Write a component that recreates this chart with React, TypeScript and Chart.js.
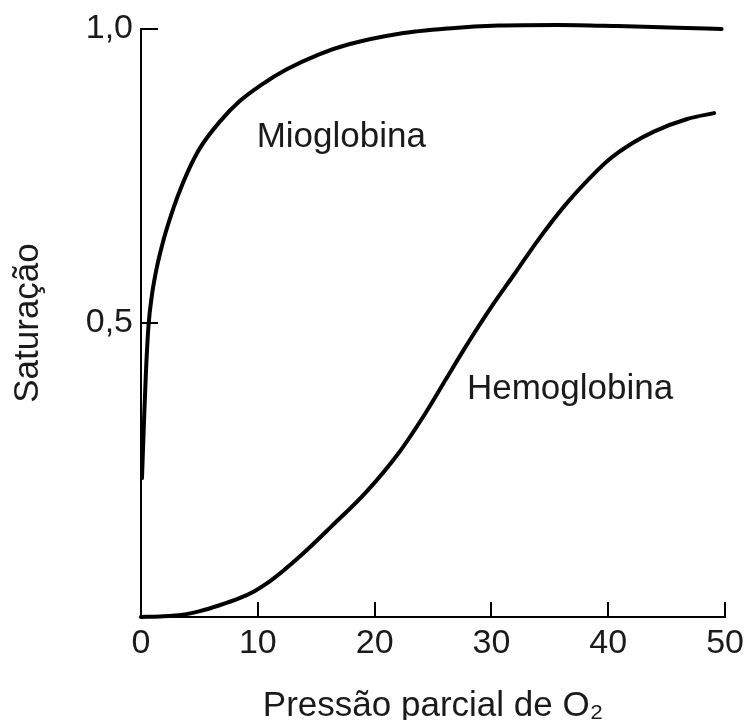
import React, { useEffect, useRef } from 'react';
import { Chart, registerables } from 'chart.js';

Chart.register(...registerables);

// ---- data ----
const mioglobinaX = [0.085, 0.26, 0.43, 0.64, 0.94, 1.36, 1.87, 2.47, 3.15, 4.0, 5.03, 6.73, 8.43, 10.3, 12.44, 15.25, 17.8, 22.1, 26.3, 30.6, 35.7, 40.8, 45.9, 49.7];
const mioglobinaY = [0.236, 0.335, 0.42, 0.495, 0.548, 0.595, 0.637, 0.677, 0.716, 0.757, 0.797, 0.842, 0.877, 0.905, 0.931, 0.957, 0.974, 0.992, 1.001, 1.006, 1.007, 1.005, 1.002, 1.0];

const hemoglobinaX = [0, 1.62, 3.58, 5.03, 6.73, 8.43, 9.71, 10.99, 13.54, 16.35, 19.25, 22.06, 24.36, 26.06, 27.77, 29.98, 32.03, 33.99, 36.29, 38.25, 39.95, 42.08, 43.95, 46.76, 49.06];
const hemoglobinaY = [0, 0.001, 0.004, 0.01, 0.02, 0.032, 0.044, 0.06, 0.102, 0.155, 0.212, 0.279, 0.347, 0.403, 0.459, 0.527, 0.585, 0.641, 0.7, 0.743, 0.776, 0.806, 0.826, 0.847, 0.857];

const seriesNames = ['Mioglobina', 'Hemoglobina'];
const seriesLabelX = [9.9, 27.9];
const seriesLabelY = [0.8, 0.371];

const xTickValues = [0, 10, 20, 30, 40, 50];
const xTickLabels = ['0', '10', '20', '30', '40', '50'];
const yTickValues = [0.5, 1.0];
const yTickLabels = ['0,5', '1,0'];

const xTitle = 'Pressão parcial de O₂';
const yTitle = 'Saturação';

const FONT = "'Liberation Sans', Arial, Helvetica, sans-serif";
const TEXT_COLOR = '#1a1a1a';

const toPoints = (xs: number[], ys: number[]) => xs.map((x, i) => ({ x, y: ys[i] }));

const innerTicksAndLabels = {
  id: 'innerTicksAndLabels',
  afterDraw(chart: any) {
    const { ctx, chartArea, scales } = chart;
    const xs = scales.x;
    const ys = scales.y;
    ctx.save();
    ctx.strokeStyle = '#000';
    ctx.lineWidth = 2;
    ctx.beginPath();
    xTickValues.forEach((v) => {
      if (v === 0) return;
      const px = Math.round(xs.getPixelForValue(v));
      ctx.moveTo(px, chartArea.bottom);
      ctx.lineTo(px, chartArea.bottom - 15);
    });
    yTickValues.forEach((v) => {
      const py = Math.round(ys.getPixelForValue(v));
      ctx.moveTo(chartArea.left - 1, py);
      ctx.lineTo(chartArea.left + 17, py);
    });
    ctx.stroke();

    ctx.fillStyle = TEXT_COLOR;
    ctx.font = `35px ${FONT}`;
    ctx.textAlign = 'left';
    ctx.textBaseline = 'alphabetic';
    seriesNames.forEach((name, i) => {
      ctx.fillText(name, xs.getPixelForValue(seriesLabelX[i]), ys.getPixelForValue(seriesLabelY[i]));
    });
    ctx.restore();
  },
};

export default function App() {
  const canvasRef = useRef<HTMLCanvasElement | null>(null);

  useEffect(() => {
    const canvas = canvasRef.current;
    if (!canvas) return;
    const lineStyle = {
      borderColor: '#000',
      borderWidth: 4,
      pointRadius: 0,
      fill: false,
      cubicInterpolationMode: 'monotone',
      clip: false,
      borderCapStyle: 'round',
      borderJoinStyle: 'round',
    };
    const chart = new Chart(canvas, {
      type: 'line',
      data: {
        datasets: [
          { label: seriesNames[0], data: toPoints(mioglobinaX, mioglobinaY), ...lineStyle } as any,
          { label: seriesNames[1], data: toPoints(hemoglobinaX, hemoglobinaY), ...lineStyle } as any,
        ],
      },
      options: {
        responsive: false,
        animation: false,
        devicePixelRatio: 1,
        layout: { padding: { left: 0, top: 29, right: 22, bottom: 0 } },
        plugins: {
          legend: { display: false },
          tooltip: { enabled: false },
        },
        scales: {
          x: {
            type: 'linear',
            min: 0,
            max: 50,
            afterFit: (s: any) => {
              s.height = 103;
            },
            afterBuildTicks: (s: any) => {
              s.ticks = xTickValues.map((v) => ({ value: v }));
            },
            grid: { display: false, drawTicks: false },
            border: { display: true, color: '#000', width: 2 },
            ticks: {
              padding: 6,
              color: TEXT_COLOR,
              font: { size: 34, family: FONT },
              maxRotation: 0,
              callback: (v: any) => {
                const i = xTickValues.indexOf(Number(v));
                return i >= 0 ? xTickLabels[i] : '';
              },
            },
            title: {
              display: true,
              text: xTitle,
              color: TEXT_COLOR,
              font: { size: 35, family: FONT, lineHeight: 1.2 },
              padding: { top: 0, bottom: -7 },
            },
          },
          y: {
            type: 'linear',
            min: 0,
            max: 1,
            afterFit: (s: any) => {
              s.width = 141;
            },
            afterBuildTicks: (s: any) => {
              s.ticks = [0, ...yTickValues].map((v) => ({ value: v }));
            },
            grid: { display: false, drawTicks: false },
            border: { display: true, color: '#000', width: 2 },
            ticks: {
              padding: 8,
              color: TEXT_COLOR,
              font: { size: 34, family: FONT },
              callback: (v: any) => {
                const i = yTickValues.indexOf(Number(v));
                return i >= 0 ? yTickLabels[i] : '';
              },
            },
            title: {
              display: true,
              text: yTitle,
              color: TEXT_COLOR,
              font: { size: 35, family: FONT, lineHeight: 1.2 },
              padding: { top: 7, bottom: 0 },
            },
          },
        },
      },
      plugins: [innerTicksAndLabels],
    });
    return () => chart.destroy();
  }, []);

  return (
    <div style={{ position: 'absolute', left: 0, top: 0, width: 750, height: 720, background: '#fff' }}>
      <canvas ref={canvasRef} width={750} height={720} style={{ display: 'block', width: 750, height: 720 }} />
    </div>
  );
}
